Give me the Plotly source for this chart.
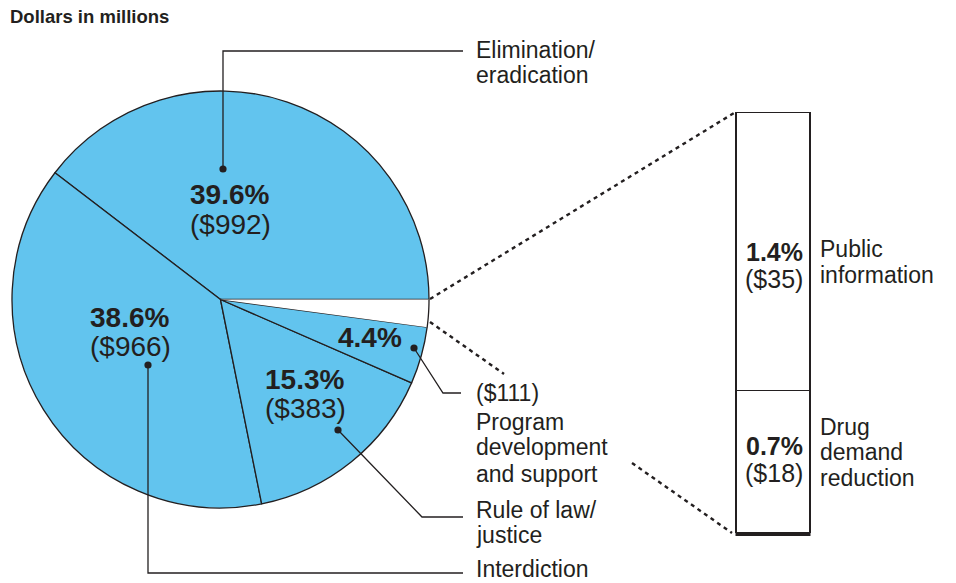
import math
import plotly.graph_objects as go

# ---- data ----
categories = ["Elimination/eradication", "Interdiction", "Rule of law/justice",
              "Program development and support", "Public information", "Drug demand reduction"]
dollars = [992, 966, 383, 111, 35, 18]
percents = ["39.6%", "38.6%", "15.3%", "4.4%", "1.4%", "0.7%"]
bar_categories = ["Drug demand reduction", "Public information"]
bar_values = [18, 35]

W, H = 956, 583
INK = "#231F20"
BLUE = "#62C4EE"
FONT = "Liberation Sans, Arial, Helvetica, sans-serif"


def px(x):
    return x / W


def py(y):
    return 1 - y / H


# pie geometry (pixels)
CX, CY, R = 220.5, 299.5, 208.5
total = sum(dollars)
# plotly (counterclockwise): first slice ends at `rotation`; we want it to start at 3 o'clock
rotation = 90 - 360 * dollars[0] / total

fig = go.Figure()

fig.add_trace(go.Pie(
    labels=categories,
    values=dollars,
    sort=False,
    direction="counterclockwise",
    rotation=rotation,
    marker=dict(colors=[BLUE, BLUE, BLUE, BLUE, "white", "white"],
                line=dict(color=INK, width=[1.3, 1.3, 1.3, 1.3, 0, 0])),
    textinfo="none",
    hoverinfo="label+value",
    showlegend=False,
    domain=dict(x=[px(CX - R), px(CX + R)], y=[py(CY + R), py(CY - R)]),
))

# stacked bar for the two small slices
for cat, val in zip(bar_categories, bar_values):
    fig.add_trace(go.Bar(
        x=[0], y=[val], name=cat, width=1,
        marker=dict(color="white", line=dict(color=INK, width=1.3)),
        showlegend=False, hoverinfo="name+y",
    ))

# arc border for the white wedge (from data angles)
start_frac = sum(dollars[:4]) / total
pts = []
for i in range(21):
    f = start_frac + (1 - start_frac) * i / 20
    ang = 2 * math.pi * f  # counterclockwise from 3 o'clock
    x = CX + R * math.cos(ang)
    y = CY - R * math.sin(ang)
    pts.append(f"{px(x):.5f},{py(y):.5f}")
arc_path = "M" + " L".join(pts)

shapes = [dict(type="path", path=arc_path, xref="paper", yref="paper",
               line=dict(color=INK, width=1.3))]


def poly(points, width=1.3, dash=None):
    p = "M" + " L".join(f"{px(x):.5f},{py(y):.5f}" for x, y in points)
    d = dict(type="path", path=p, xref="paper", yref="paper",
             line=dict(color=INK, width=width))
    if dash:
        d["line"]["dash"] = dash
    return d


def dot(x, y, r=3.6):
    return dict(type="circle", xref="paper", yref="paper",
                x0=px(x - r), x1=px(x + r), y0=py(y + r), y1=py(y - r),
                fillcolor=INK, line=dict(color=INK, width=0))


# leader lines
shapes += [
    poly([(223, 169), (223, 51), (463, 51)]),
    poly([(148, 365), (148, 573), (463, 573)]),
    poly([(338, 430), (422, 517), (463, 517)]),
    poly([(414, 348), (443, 393), (461, 393)]),
    dot(223, 169), dot(148, 365), dot(338, 430), dot(414, 348),
]
# dotted connectors
shapes += [
    poly([(430, 299), (734, 113)], width=2.4, dash="4px,4px"),
    poly([(430, 322), (504, 374)], width=2.4, dash="4px,4px"),
    poly([(632, 463), (732, 533)], width=2.4, dash="4px,4px"),
]

annotations = []


def txt(s, x, y, size=23, anchor="left", bold=False):
    t = f"<b>{s}</b>" if bold else s
    annotations.append(dict(text=t, x=px(x), y=py(y), xref="paper", yref="paper",
                            xanchor=anchor, yanchor="middle", showarrow=False,
                            font=dict(family=FONT, size=size, color=INK)))


txt("Dollars in millions", 8, 16, size=18.5, bold=True)

# right-hand labels
LX = 474
txt("Elimination/", LX, 50)
txt("eradication", LX, 75)
txt("(" + "$" + f"{dollars[3]})", LX, 393)
txt("Program", LX, 422)
txt("development", LX, 447)
txt("and support", LX, 474)
txt("Rule of law/", LX, 510)
txt("justice", LX, 535)
txt("Interdiction", LX, 569)

# pie inner labels
txt(percents[0], 229, 194, size=28, anchor="center", bold=True)
txt(f"(${dollars[0]})", 230, 224, size=28, anchor="center")
txt(percents[1], 129, 317, size=28, anchor="center", bold=True)
txt(f"(${dollars[1]})", 130, 346, size=28, anchor="center")
txt(percents[2], 304, 379, size=28, anchor="center", bold=True)
txt(f"(${dollars[2]})", 305, 408, size=28, anchor="center")
txt(percents[3], 370, 337, size=28, anchor="center", bold=True)

# bar labels
txt(percents[4], 805, 252, size=25, anchor="right", bold=True)
txt(f"(${dollars[4]})", 805, 279, size=25, anchor="right")
txt(percents[5], 805, 446, size=25, anchor="right", bold=True)
txt(f"(${dollars[5]})", 805, 473, size=25, anchor="right")
txt("Public", 818, 249)
txt("information", 818, 275)
txt("Drug", 818, 427)
txt("demand", 818, 452)
txt("reduction", 818, 478)

# bar axes: bar spans x 736..810, y 112.5..533 px
BX0, BX1 = 736, 810
BY0, BY1 = 533, 112.5
pad = 0.02
xw = (BX1 - BX0)
ppu = (BY0 - BY1) / sum(bar_values)
ytop = sum(bar_values) + 0.5
fig.update_layout(
    width=W, height=H,
    margin=dict(l=0, r=0, t=0, b=0),
    paper_bgcolor="white", plot_bgcolor="rgba(0,0,0,0)",
    barmode="stack",
    xaxis=dict(domain=[px(BX0 - xw * pad), px(BX1 + xw * pad)],
               range=[-0.5 - pad, 0.5 + pad], showgrid=False, zeroline=False,
               showticklabels=False, ticks="", showline=False, fixedrange=True),
    yaxis=dict(domain=[py(BY0), py(BY0 - ytop * ppu)], range=[0, ytop],
               showgrid=False, zeroline=False, showticklabels=False, ticks="",
               showline=False, fixedrange=True),
    shapes=shapes + [dict(type="line", xref="paper", yref="paper",
                          x0=px(BX0 - 0.5), x1=px(BX1 + 0.5), y0=py(BY0 + 1), y1=py(BY0 + 1),
                          line=dict(color=INK, width=4))],
    annotations=annotations,
    font=dict(family=FONT, color=INK),
)

fig.write_html("out.html", config={"displayModeBar": False},
               post_script="document.body.style.margin='0';document.body.style.overflow='hidden';")
